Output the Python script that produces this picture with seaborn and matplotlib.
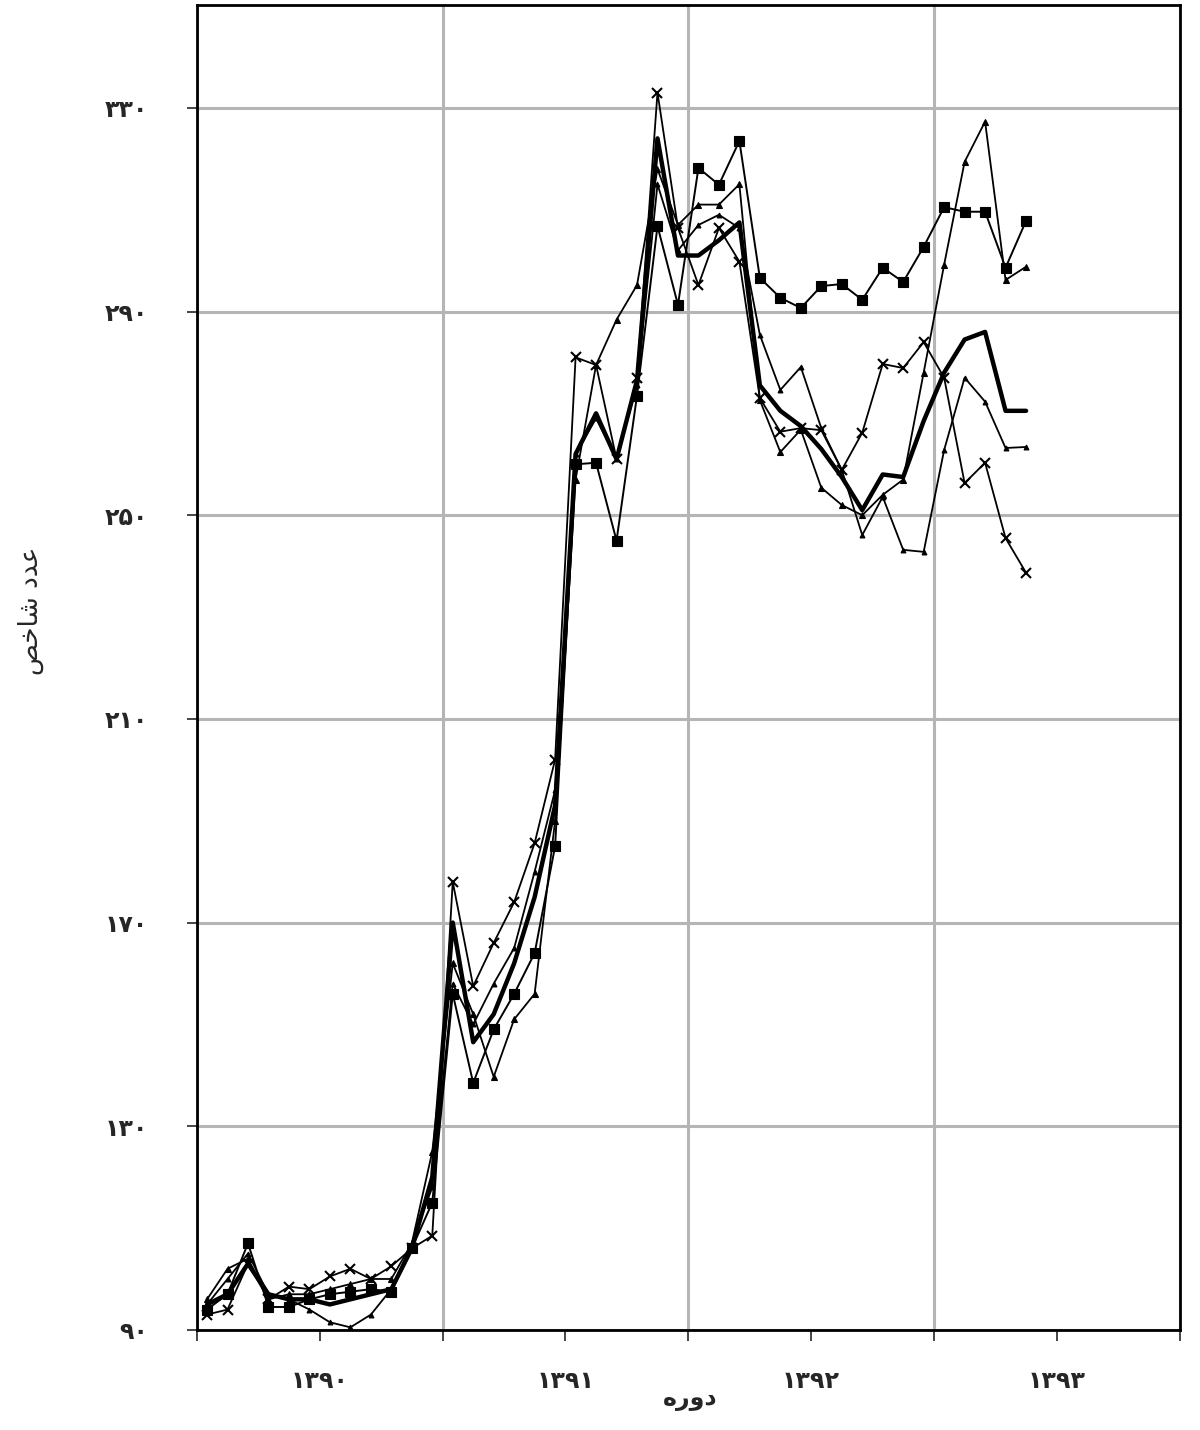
import numpy as np
import pandas as pd
import matplotlib
matplotlib.use("Agg")
import matplotlib.pyplot as plt
import seaborn as sns

# ---- data (monthly index values) ----
months = list(range(41))  # month number from the start of the period

total = [95, 97, 103, 97, 96, 96, 95, 96, 97, 98, 106, 120,
         170, 146.5, 152, 162, 175, 193,
         262, 270, 261, 276.5, 324, 301, 301, 304, 307.5,
         275.5, 270.5, 267.5, 263, 257.5, 251, 258, 257.5, 268.5, 278, 284.5, 286, 270.5, 270.5]

series_square = [94, 97, 107, 94.5, 94.5, 96, 97, 97.5, 98, 97.5, 106, 115,
                 156, 138.5, 149, 156, 164, 185,
                 260, 260.3, 245, 273.5, 306.8, 291.3, 318.2, 314.9, 323.5,
                 296.6, 292.7, 290.7, 295, 295.4, 292.3, 298.6, 295.8, 302.7, 310.5, 309.6, 309.6, 298.6, 307.8]

series_triangle = [96, 102, 104, 96, 97, 97, 98, 99, 100, 100, 107, 125,
                   162, 152, 139.7, 151, 156, 190,
                   257, 279.5, 288.4, 295.2, 318, 307, 311, 311, 315,
                   272.6, 262.4, 266.8, 255.4, 252, 250, 254, 257, 278, 299.2, 319.4, 327.3, 296.2, 298.8]

series_cross = [93, 94, 103, 96, 98.5, 98, 100.5, 102, 100, 102.5, 106, 108.5,
                178, 157.5, 166, 174, 185.6, 202,
                281, 279.5, 261, 277, 333, 306.4, 295.2, 306.4, 299.8,
                273, 266.4, 267.1, 266.7, 258.9, 266.2, 279.7, 278.9, 284, 277, 256.3, 260.3, 245.5, 238.7]

series_thin = [95, 100, 105, 97, 96, 94, 91.5, 90.5, 93, 98, 107, 118,
               158, 150, 158, 165, 180, 196,
               262, 269, 261, 275.6, 315, 302, 307, 309, 306.4,
               285.4, 274.6, 279.1, 267.1, 258.9, 246.1, 253.6, 243.2, 242.8, 262.8, 277, 272.3, 263.2, 263.4]

y_ticks = [90, 130, 170, 210, 250, 290, 330]
y_tick_labels = ['۹۰', '۱۳۰', '۱۷۰', '۲۱۰', '۲۵۰', '۲۹۰', '۳۳۰']
x_year_ticks = [6, 18, 30, 42]
x_tick_labels = ['۱۳۹۰', '۱۳۹۱', '۱۳۹۲', '۱۳۹۳']
x_grid_ticks = [0, 12, 24, 36, 48]

# Persian titles (shaped presentation forms, visual order)
x_title = '\uFEE9\uFEAD\uFEED\uFEA9'                              # دوره
y_title = '\uFEBA\uFEA7\uFE8E\uFEB7 \uFEA9\uFEAA\uFECB'            # عدد شاخص

# ---- build table ----
x_pos = [m + 0.5 for m in months]
frames = []
for name, vals in [('total', total), ('square', series_square), ('triangle', series_triangle),
                   ('cross', series_cross), ('thin', series_thin)]:
    frames.append(pd.DataFrame({'x': x_pos, 'value': vals, 'series': name}))
df = pd.concat(frames, ignore_index=True)

sns.set_style("white")
plt.rcParams['font.family'] = ['DejaVu Sans']

fig = plt.figure(figsize=(12, 14.3), dpi=100)
ax = fig.add_axes([0.164, 0.07, 0.819, 0.9265])

styles = {
    'thin':     dict(lw=1.3, marker='^', ms=3.5, mew=0.8),
    'triangle': dict(lw=1.3, marker='^', ms=4.5, mew=0.8),
    'cross':    dict(lw=1.3, marker='x', ms=7, mew=1.5),
    'square':   dict(lw=1.4, marker='s', ms=6.5, mew=0.8),
    'total':    dict(lw=3.2, marker=None, ms=0, mew=0),
}
for name in ['thin', 'triangle', 'cross', 'square', 'total']:
    st = styles[name]
    sub = df[df['series'] == name]
    sns.lineplot(data=sub, x='x', y='value', ax=ax, color='black', linewidth=st['lw'],
                 marker=st['marker'], markersize=st['ms'], markeredgewidth=st['mew'],
                 markeredgecolor='black', markerfacecolor='black', estimator=None,
                 sort=False, legend=False, zorder=3)

ax.set_xlim(0, 48)
ax.set_ylim(90, 350.2)

ax.set_yticks(y_ticks)
ax.set_yticklabels(y_tick_labels, fontsize=17, fontweight='bold')
ax.set_xticks(x_year_ticks)
ax.set_xticklabels(x_tick_labels, fontsize=17, fontweight='bold')
ax.set_xticks(x_grid_ticks, minor=True)

ax.tick_params(axis='y', which='major', direction='out', length=7, width=1.2, pad=28, left=True)
ax.tick_params(axis='x', which='both', direction='out', length=8, width=1.2, pad=20, bottom=True)

ax.grid(False)
ax.yaxis.grid(True, which='major', color='#b5b5b5', linewidth=2.2, zorder=0)
ax.xaxis.grid(True, which='minor', color='#b5b5b5', linewidth=2.2, zorder=0)
ax.set_axisbelow(True)

for sp in ax.spines.values():
    sp.set_visible(True)
    sp.set_color('black')
    sp.set_linewidth(2.0)

ax.set_xlabel('')
ax.set_ylabel('')
fig.text(0.575, 0.022, x_title, ha='center', va='center', fontsize=17, fontweight='bold')
fig.text(0.026, 0.573, y_title, ha='center', va='center', rotation=90, fontsize=19)

fig.savefig('out.png', dpi=100, facecolor='white')
